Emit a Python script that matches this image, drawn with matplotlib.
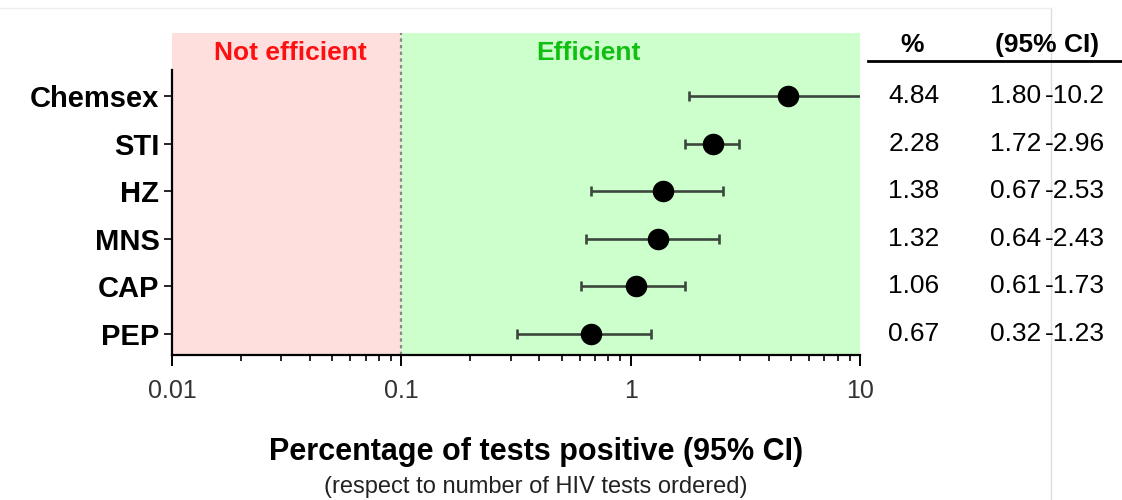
import matplotlib
matplotlib.use("Agg")
import matplotlib.pyplot as plt
import matplotlib.transforms as mtransforms
from matplotlib.lines import Line2D
from matplotlib.ticker import LogLocator, NullFormatter, FixedFormatter, FixedLocator

plt.rcParams['font.family'] = ['Liberation Sans', 'DejaVu Sans']

# data
categories = ["Chemsex", "STI", "HZ", "MNS", "CAP", "PEP"]
pct = [4.84, 2.28, 1.38, 1.32, 1.06, 0.67]
ci_lo = [1.80, 1.72, 0.67, 0.64, 0.61, 0.32]
ci_hi = [10.2, 2.96, 2.53, 2.43, 1.73, 1.23]
pct_txt = ["4.84", "2.28", "1.38", "1.32", "1.06", "0.67"]
lo_txt = ["1.80", "1.72", "0.67", "0.64", "0.61", "0.32"]
hi_txt = ["10.2", "2.96", "2.53", "2.43", "1.73", "1.23"]
xticks = [0.01, 0.1, 1, 10]
xtick_labels = ["0.01", "0.1", "1", "10"]
threshold = 0.1

W, H = 1122, 500
fig = plt.figure(figsize=(W / 100, H / 100), dpi=100)
ax = fig.add_axes([172 / W, 1 - 355 / H, (860 - 172) / W, (355 - 33) / H])

ypos = list(range(len(categories) - 1, -1, -1))

ax.set_xscale("log")
ax.set_xlim(0.01, 10)
ax.set_ylim(-0.44, 5 + 1.32)

ax.axvspan(0.01, threshold, color="#ffdede", zorder=0, lw=0)
ax.axvspan(threshold, 10, color="#ccffcc", zorder=0, lw=0)
ax.axvline(threshold, color="#888888", ls=(0, (1.5, 1.5)), lw=1.6, zorder=1)

xerr = [[p - l for p, l in zip(pct, ci_lo)], [h - p for p, h in zip(pct, ci_hi)]]
ax.errorbar(pct, ypos, xerr=xerr, fmt="o", color="black", ms=14.5,
            ecolor="#3c463c", elinewidth=1.9, capsize=3.5, capthick=1.9, zorder=3)

ax.text(0.1715, 0.938, "Not efficient", transform=ax.transAxes, ha="center", va="center",
        color="#ff1010", fontsize=19, fontweight="bold")
ax.text(0.605, 0.938, "Efficient", transform=ax.transAxes, ha="center", va="center",
        color="#10c010", fontsize=19, fontweight="bold")

ax.spines["top"].set_visible(False)
ax.spines["right"].set_visible(False)
ax.spines["left"].set_bounds(-0.44, 5.55)
ax.spines["left"].set_linewidth(1.6)
ax.spines["bottom"].set_linewidth(1.6)

ax.set_yticks(ypos)
ax.set_yticklabels(categories, fontsize=21, fontweight="bold")
ax.tick_params(axis="y", length=6, width=1.2, pad=3)

ax.xaxis.set_major_locator(FixedLocator(xticks))
ax.xaxis.set_major_formatter(FixedFormatter(xtick_labels))
ax.xaxis.set_minor_locator(LogLocator(base=10, subs=range(2, 10)))
ax.xaxis.set_minor_formatter(NullFormatter())
ax.tick_params(axis="x", which="major", length=8, width=1.4, pad=9, labelsize=18,
               labelcolor="#333333")
ax.tick_params(axis="x", which="minor", length=4, width=1.2)

fig.text(536 / W, 1 - 452 / H, "Percentage of tests positive (95% CI)", ha="center",
         va="center", fontsize=22, fontweight="bold")
fig.text(536 / W, 1 - 487 / H, "(respect to number of HIV tests ordered)", ha="center",
         va="center", fontsize=17, color="#222222")

# table on the right
tr = mtransforms.blended_transform_factory(fig.transFigure, ax.transData)
for y, p, lo, hi in zip(ypos, pct_txt, lo_txt, hi_txt):
    ax.text(914 / W, y, p, transform=tr, ha="center", va="center", fontsize=19, clip_on=False)
    ax.text(1041 / W, y, lo, transform=tr, ha="right", va="center", fontsize=19, clip_on=False)
    ax.text(1045 / W, y, "-" + hi, transform=tr, ha="left", va="center", fontsize=19, clip_on=False)

fig.text(912 / W, 1 - 45 / H, "%", ha="center", va="center", fontsize=19, fontweight="bold")
fig.text(1047 / W, 1 - 45 / H, "(95% CI)", ha="center", va="center", fontsize=19, fontweight="bold")
fig.add_artist(Line2D([868 / W, 1], [1 - 61 / H, 1 - 61 / H], color="black", lw=2))

# faint frame lines of the original screenshot
fig.add_artist(Line2D([0, 1051 / W], [1 - 8 / H, 1 - 8 / H], color="#eeeeee", lw=1))
fig.add_artist(Line2D([1051 / W, 1051 / W], [0, 1 - 8 / H], color="#dddddd", lw=1, zorder=0))

fig.savefig("out.png", dpi=100)
